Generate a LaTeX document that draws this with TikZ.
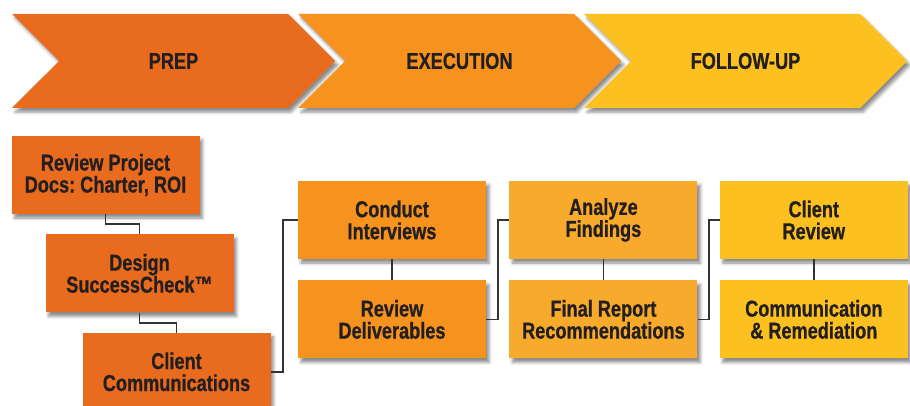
\documentclass[tikz,border=0pt]{standalone}
\usepackage{fontspec}
\setmainfont{Liberation Sans}[FakeStretch=0.79, FakeBold=0.7]
\usetikzlibrary{shapes.symbols, positioning, shadows.blur}
\frenchspacing

\definecolor{prepc}{HTML}{E96B1E}
\definecolor{execc}{HTML}{F6921E}
\definecolor{analc}{HTML}{F8AA2C}
\definecolor{followc}{HTML}{FCC120}
\definecolor{textc}{HTML}{231F20}
\definecolor{linec}{HTML}{333333}

\begin{document}
\begin{tikzpicture}[x=1pt, y=-1pt, font=\fontsize{23}{22}\selectfont\bfseries, node distance=21pt and 23pt,
  softshadow/.style={blur shadow={shadow xshift=3pt, shadow yshift=-4pt, shadow blur radius=3pt, shadow opacity=45}},
  phase/.style={signal, signal from=west, signal to=east, signal pointer angle=90, minimum width=323pt, minimum height=94pt, inner sep=0pt, text=textc, softshadow},
  task/.style={minimum width=188pt, minimum height=78pt, inner sep=0pt, align=center, text=textc, softshadow},
  link/.style={draw=linec, line width=1.8pt}]
\useasboundingbox (0,0) rectangle (910,406);

\node [phase, fill=prepc] (prep) at (173.5,61) {PREP};
\node [phase, fill=execc] (exec) at (459.5,61) {EXECUTION};
\node [phase, fill=followc] (follow) at (745.5,61) {FOLLOW-UP};

\node [task, fill=prepc] (rpd) at (105.5,175) {Review Project\\Docs: Charter, ROI};
\node [task, fill=prepc, below=20pt of rpd, xshift=34pt] (dsc) {Design\\SuccessCheck™};
\node [task, fill=prepc, below=20pt of dsc, xshift=37pt] (cc) {Client\\Communications};

\node [task, fill=execc] (ci) at (392,220) {Conduct\\Interviews};
\node [task, fill=execc, below=of ci] (rd) {Review\\Deliverables};

\node [task, fill=analc, right=of ci] (af) {Analyze\\Findings};
\node [task, fill=analc, below=of af] (frr) {Final Report\\Recommendations};

\node [task, fill=followc, right=22pt of af] (cr) {Client\\Review};
\node [task, fill=followc, below=of cr] (cm) {Communication\\\& Remediation};

\draw[link] (rpd.south) -- ++(0,10) -| (dsc.north);
\draw[link] (dsc.south) -- ++(0,10) -| (cc.north);
\draw[link] (cc.east) -- ++(12,0) |- (ci.west);
\draw[link] (ci.south) -- (rd.north);
\draw[link] (rd.east) -- ++(12,0) |- (af.west);
\draw[link] (af.south) -- (frr.north);
\draw[link] (frr.east) -- ++(11,0) |- (cr.west);
\draw[link] (cr.south) -- (cm.north);
\end{tikzpicture}
\end{document}
